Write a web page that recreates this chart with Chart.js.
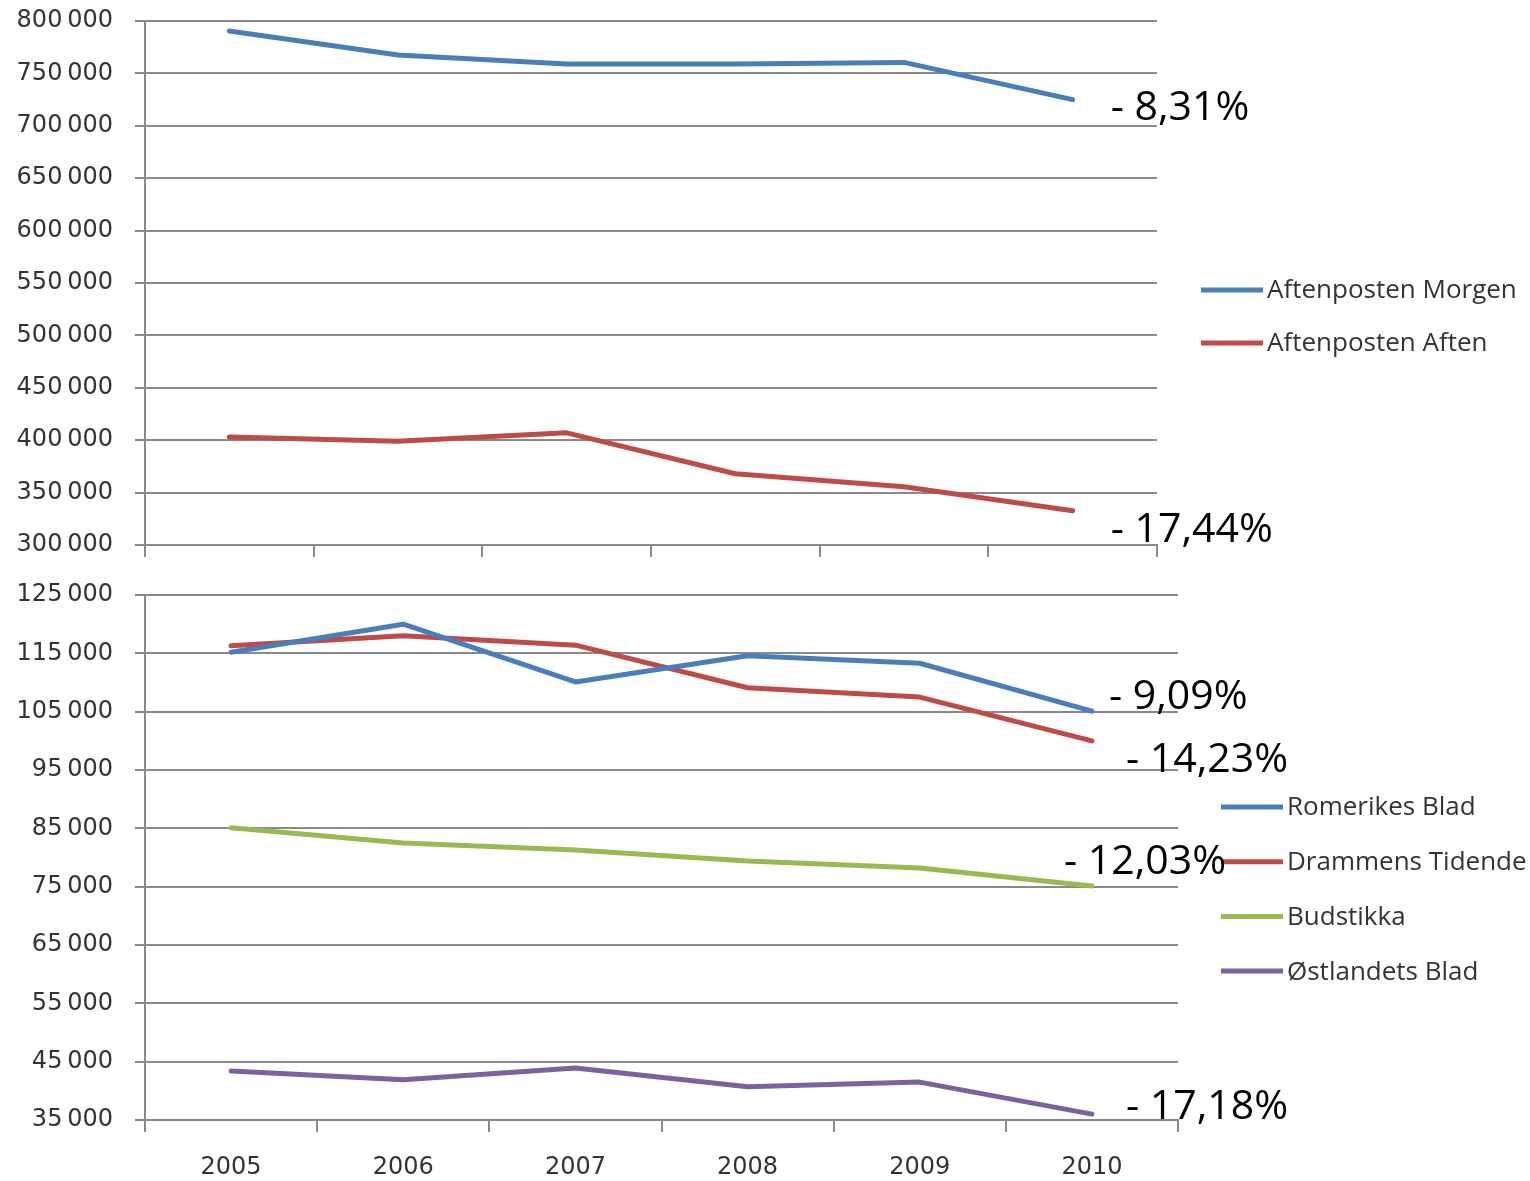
<!DOCTYPE html>
<html>
<head>
<meta charset="utf-8">
<script src="https://cdn.jsdelivr.net/npm/chart.js@4.4.0/dist/chart.umd.min.js"></script>
<style>
html, body { margin: 0; padding: 0; background: #fff; }
#wrap { position: relative; width: 1530px; height: 1181px; overflow: hidden; }
canvas { position: absolute; left: 0; }
#top { top: 0; }
#bottom { top: 560px; }
</style>
</head>
<body>
<div id="wrap">
  <canvas id="top" width="1530" height="560"></canvas>
  <canvas id="bottom" width="1530" height="621"></canvas>
</div>
<script>
// data
const years = ['2005', '2006', '2007', '2008', '2009', '2010']

const aftenpostenMorgen = [790500, 767500, 759000, 759000, 760500, 725000]
const aftenpostenAften  = [403000, 399000, 407000, 368000, 355500, 332700]

const romerikesBlad   = [115200, 120000, 110100, 114600, 113300, 105100]
const drammensTidende = [116300, 118000, 116400, 109100, 107500, 100000]
const budstikka       = [85100, 82500, 81300, 79400, 78200, 75100]
const ostlandetsBlad  = [43400, 41900, 43900, 40700, 41500, 36000]

const topChanges    = ['- 8,31%', '- 17,44%']
const bottomChanges = ['- 9,09%', '- 14,23%', '- 12,03%', '- 17,18%']

const BLUE = '#4a7ebb', RED = '#be4b48', GREEN = '#98b954', PURPLE = '#7d60a0'
const GRID = '#8a8a8a'
const fmt = v => String(v).replace(/\B(?=(\d{3})+(?!\d))/g, '\u2009')

// legend on the right + the percentage notes next to the last points
const extras = {
    id: 'extras',
    afterDraw(chart, args, opts){
        const ctx = chart.ctx
        ctx.save()
        ctx.textBaseline = 'middle'
        chart.data.datasets.forEach((ds, i)=>{
            const y = opts.legendY + i * opts.legendGap
            ctx.strokeStyle = ds.borderColor
            ctx.lineWidth = 5
            ctx.beginPath()
            ctx.moveTo(opts.legendX, y)
            ctx.lineTo(opts.legendX + 62, y)
            ctx.stroke()
            ctx.fillStyle = '#333'
            ctx.font = '26px "Open Sans"'
            ctx.fillText(ds.label, opts.legendX + 66, y + 1)
        })
        ctx.font = '41px "Open Sans"'
        ctx.fillStyle = '#000'
        opts.changes.forEach((txt, i)=>{
            const pts = chart.getDatasetMeta(i).data
            const pt = pts[pts.length - 1]
            const [dx, dy] = opts.offsets[i]
            ctx.fillText(txt, pt.x + dx, pt.y + dy)
        })
        ctx.restore()
    }
}

function line(label, data, color){
    return { label, data, borderColor: color, backgroundColor: color, borderWidth: 5,
             pointRadius: 0, tension: 0, borderCapStyle: 'round', borderJoinStyle: 'round' }
}

function yAxis(min, max, step){
    return {
        min, max,
        ticks: { stepSize: step, color: '#333', padding: 22, callback: fmt,
                 font: { family: 'DejaVu Sans', size: 24 } },
        grid: { color: GRID, lineWidth: 2, tickLength: 10 },
        border: { color: GRID, width: 2 },
        afterFit(s){
            s.width = 145
            // keep the plot box where the layout padding puts it
            s.paddingTop = 0
            s.paddingBottom = 0
        }
    }
}

function xAxis(showLabels, height){
    return {
        offset: true,
        grid: { offset: true, drawOnChartArea: false, color: GRID, lineWidth: 2, tickLength: 12 },
        border: { color: GRID, width: 2 },
        ticks: { display: showLabels, color: '#333', padding: 21, maxRotation: 0,
                 font: { family: 'DejaVu Sans', size: 24 } },
        afterFit(s){ s.height = height }
    }
}

const common = {
    responsive: false,
    animation: false,
    devicePixelRatio: 1,
    plugins: { legend: { display: false }, tooltip: { enabled: false } }
}

new Chart(document.getElementById('top'), {
    type: 'line',
    data: {
        labels: years,
        datasets: [
            line('Aftenposten Morgen', aftenpostenMorgen, BLUE),
            line('Aftenposten Aften', aftenpostenAften, RED)
        ]
    },
    options: {
        ...common,
        layout: { padding: { top: 21, right: 373, left: 0, bottom: 0 } },
        scales: { x: xAxis(false, 15), y: yAxis(300000, 800000, 50000) },
        plugins: {
            ...common.plugins,
            extras: { legendX: 1201, legendY: 290, legendGap: 53,
                      changes: topChanges, offsets: [[38, 9], [38, 20]] }
        }
    },
    plugins: [extras]
})

new Chart(document.getElementById('bottom'), {
    type: 'line',
    data: {
        labels: years,
        datasets: [
            line('Romerikes Blad', romerikesBlad, BLUE),
            line('Drammens Tidende', drammensTidende, RED),
            line('Budstikka', budstikka, GREEN),
            line('Østlandets Blad', ostlandetsBlad, PURPLE)
        ]
    },
    options: {
        ...common,
        layout: { padding: { top: 35, right: 352, left: 0, bottom: 0 } },
        scales: { x: xAxis(true, 61), y: yAxis(35000, 125000, 10000) },
        plugins: {
            ...common.plugins,
            extras: { legendX: 1221, legendY: 247, legendGap: 54.7,
                      changes: bottomChanges, offsets: [[17, -14], [34, 19], [-28, -24], [34, -7]] }
        }
    },
    plugins: [extras]
})
</script>
</body>
</html>
